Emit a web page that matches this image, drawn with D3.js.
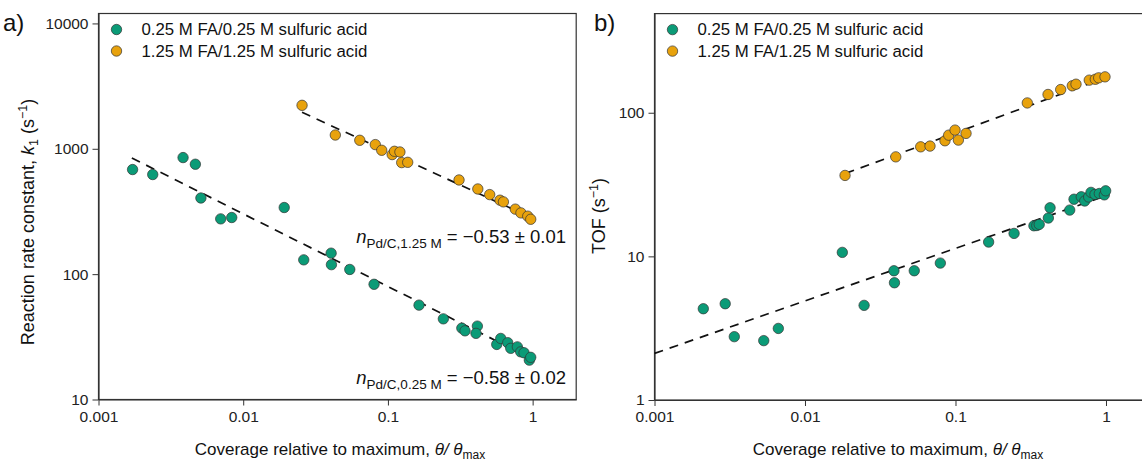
<!DOCTYPE html>
<html>
<head>
<meta charset="utf-8">
<script src="https://cdn.jsdelivr.net/npm/d3@7"></script>
<style>
  body { margin: 0; background: #fff; }
  svg { font-family: Arial, "Liberation Sans", sans-serif; }
</style>
</head>
<body>
<div id="chart"></div>
<script>
// ---- data ----
// panel a: reaction rate constant k1 (s^-1) vs coverage
var aLowX  = [0.00172, 0.00237, 0.00384, 0.00467, 0.0051, 0.00699, 0.00833, 0.0192, 0.0262, 0.0405, 0.0407, 0.0545, 0.0802, 0.164, 0.2415, 0.324, 0.341, 0.415, 0.406, 0.565, 0.602, 0.673, 0.706, 0.784, 0.827, 0.872, 0.949, 0.97];
var aLowY  = [683, 623, 851, 753, 405, 276, 283, 340, 130, 147, 119, 109, 83, 56.6, 44, 37.1, 35.3, 38.5, 33.7, 27.5, 30.7, 28.4, 25.6, 26.3, 24, 23.6, 20.6, 21.7];
var aHighX = [0.0255, 0.0433, 0.0639, 0.0818, 0.0906, 0.107, 0.111, 0.121, 0.1245, 0.137, 0.31, 0.418, 0.505, 0.595, 0.628, 0.759, 0.83, 0.925, 0.97];
var aHighY = [2222, 1288, 1169, 1080, 973, 899, 955, 943, 776, 780, 564, 478, 431, 389, 377, 330, 308, 290, 274];
var aFitLowX  = [0.0017, 1],  aFitLowY  = [845, 21];
var aFitHighX = [0.0255, 1],  aFitHighY = [1955, 279];

// panel b: TOF (s^-1) vs coverage
var bLowX  = [0.00211, 0.00295, 0.00339, 0.00532, 0.00665, 0.0177, 0.0247, 0.039, 0.0393, 0.0532, 0.0793, 0.166, 0.245, 0.332, 0.347, 0.36, 0.414, 0.425, 0.574, 0.613, 0.685, 0.722, 0.767, 0.795, 0.845, 0.903, 0.975, 0.995];
var bLowY  = [4.32, 4.68, 2.76, 2.59, 3.15, 10.66, 4.56, 7.94, 6.55, 7.94, 8.98, 12.58, 14.45, 16.33, 16.4, 16.7, 18.5, 21.8, 21.0, 25.0, 26.0, 24.3, 25.9, 27.9, 27.0, 27.4, 26.8, 28.6];
var bHighX = [0.01845, 0.0401, 0.0587, 0.0677, 0.0851, 0.0901, 0.0993, 0.1045, 0.1175, 0.3, 0.412, 0.5, 0.597, 0.632, 0.774, 0.849, 0.894, 0.985];
var bHighY = [36.6, 49.3, 57.9, 58.6, 63.8, 69.8, 75.7, 64.5, 71.8, 117, 134, 145, 154, 158, 168.6, 171, 175, 177.8];
var bFitLowX  = [0.001, 1],   bFitLowY  = [2.11, 26.4];
var bFitHighX = [0.0186, 1],  bFitHighY = [37.8, 176];

var seriesNames = ['0.25 M FA/0.25 M sulfuric acid', '1.25 M FA/1.25 M sulfuric acid'];
var xTicks = [0.001, 0.01, 0.1, 1];
var aYTicks = [10, 100, 1000, 10000];
var bYTicks = [1, 10, 100];

var green = '#0b9b77', orange = '#e8a20c';

var svg = d3.select('#chart').append('svg')
  .attr('width', 1142).attr('height', 464);

// minor ticks 2..9 of every decade inside a domain
function minorTicks(domain) {
  var out = [];
  for (var e = Math.floor(Math.log10(domain[0])); e <= Math.ceil(Math.log10(domain[1])); e++) {
    for (var m = 2; m <= 9; m++) {
      var v = m * Math.pow(10, e);
      if (v > domain[0] && v < domain[1]) out.push(v);
    }
  }
  return out;
}

function zip(xs, ys) {
  return xs.map(function(x, i) { return { x: x, y: ys[i] }; });
}

function drawPanel(p) {
  var x = d3.scaleLog().domain(p.xDomain).range(p.xRange);
  var y = d3.scaleLog().domain(p.yDomain).range(p.yRange);
  var g = svg.append('g');

  // frame
  g.append('rect')
    .attr('x', p.xRange[0]).attr('y', p.yRange[1])
    .attr('width', p.xRange[1] - p.xRange[0])
    .attr('height', p.yRange[0] - p.yRange[1])
    .attr('fill', 'none').attr('stroke', '#333').attr('stroke-width', 1.2);

  // x axis
  var xa = g.append('g').attr('transform', 'translate(0,' + p.yRange[0] + ')');
  xa.call(d3.axisBottom(x).tickValues(minorTicks(p.xDomain)).tickFormat('').tickSize(3).tickSizeOuter(0));
  xa.call(d3.axisBottom(x).tickValues(xTicks).tickFormat(function(d) { return String(d); }).tickSize(6).tickSizeOuter(0).tickPadding(5));

  // y axis
  var ya = g.append('g').attr('transform', 'translate(' + p.xRange[0] + ',0)');
  ya.call(d3.axisLeft(y).tickValues(minorTicks(p.yDomain)).tickFormat('').tickSize(3).tickSizeOuter(0));
  ya.call(d3.axisLeft(y).tickValues(p.yTicks).tickFormat(function(d) { return String(d); }).tickSize(6).tickSizeOuter(0).tickPadding(4));

  g.selectAll('.domain').attr('stroke', '#333').attr('stroke-width', 1.2);
  g.selectAll('.tick line').attr('stroke', '#333');
  g.selectAll('.tick text').attr('font-size', 15.5).attr('fill', '#222')
    .attr('font-family', 'Arial, "Liberation Sans", sans-serif');

  // fit lines
  var line = d3.line().x(function(d) { return x(d.x); }).y(function(d) { return y(d.y); });
  p.fits.forEach(function(f) {
    g.append('path').datum(zip(f[0], f[1]))
      .attr('d', line).attr('fill', 'none')
      .attr('stroke', '#111').attr('stroke-width', 1.7)
      .attr('stroke-dasharray', '9,7');
  });

  // points
  p.series.forEach(function(s) {
    g.selectAll(null).data(zip(s.xs, s.ys)).enter().append('circle')
      .attr('cx', function(d) { return x(d.x); })
      .attr('cy', function(d) { return y(d.y); })
      .attr('r', 5.2)
      .attr('fill', s.color).attr('stroke', '#333').attr('stroke-width', 0.7);
  });

  // legend
  seriesNames.forEach(function(name, i) {
    var ly = p.yRange[1] + 16 + i * 21.5;
    g.append('circle').attr('cx', p.xRange[0] + 18).attr('cy', ly).attr('r', 5.2)
      .attr('fill', p.series[i].color).attr('stroke', '#333').attr('stroke-width', 0.7);
    g.append('text').attr('x', p.xRange[0] + 43).attr('y', ly + 5.5)
      .attr('font-size', 16.8).attr('fill', '#111').text(name);
  });

  // panel letter
  g.append('text').attr('x', p.letterX).attr('y', 31)
    .attr('font-size', 24).attr('fill', '#111').text(p.letter);

  // x title
  var xt = g.append('text')
    .attr('x', p.xTitleX).attr('y', 455)
    .attr('text-anchor', 'middle').attr('font-size', 17).attr('fill', '#111');
  xt.append('tspan').text('Coverage relative to maximum, ');
  xt.append('tspan').attr('font-style', 'italic').text('θ/ θ');
  xt.append('tspan').attr('font-size', 12).attr('dy', 4).text('max');

  // y title
  var yt = g.append('text')
    .attr('transform', 'translate(' + p.yTitleX + ',' + p.yTitleY + ') rotate(-90)')
    .attr('text-anchor', 'middle').attr('font-size', 18).attr('fill', '#111');
  p.yTitle(yt);
}

drawPanel({
  letter: 'a)', letterX: 3,
  xDomain: [0.001, 2], xRange: [98.5, 576.2],
  yDomain: [10, 12000], yRange: [399.5, 13.5],
  yTicks: aYTicks,
  xTitleX: 340,
  yTitleX: 34, yTitleY: 222,
  yTitle: function(t) {
    t.append('tspan').text('Reaction rate constant, ');
    t.append('tspan').attr('font-style', 'italic').text('k');
    t.append('tspan').attr('font-size', 12.5).attr('dy', 4).text('1');
    t.append('tspan').attr('dy', -4).text(' (s');
    t.append('tspan').attr('font-size', 12.5).attr('dy', -7).text('−1');
    t.append('tspan').attr('dy', 7).text(')');
  },
  fits: [[aFitLowX, aFitLowY], [aFitHighX, aFitHighY]],
  series: [
    { xs: aLowX, ys: aLowY, color: green },
    { xs: aHighX, ys: aHighY, color: orange }
  ]
});

drawPanel({
  letter: 'b)', letterX: 594,
  xDomain: [0.001, 2], xRange: [654.5, 1151.3],
  yDomain: [1, 490], yRange: [400, 13.6],
  yTicks: bYTicks,
  xTitleX: 898,
  yTitleX: 605, yTitleY: 216,
  yTitle: function(t) {
    t.append('tspan').text('TOF (s');
    t.append('tspan').attr('font-size', 12.5).attr('dy', -7).text('−1');
    t.append('tspan').attr('dy', 7).text(')');
  },
  fits: [[bFitLowX, bFitLowY], [bFitHighX, bFitHighY]],
  series: [
    { xs: bLowX, ys: bLowY, color: green },
    { xs: bHighX, ys: bHighY, color: orange }
  ]
});

// slope annotations in panel a
function annot(yPos, sub, val) {
  var t = svg.append('text').attr('x', 566).attr('y', yPos)
    .attr('text-anchor', 'end').attr('font-size', 18.5).attr('fill', '#111');
  t.append('tspan').attr('font-style', 'italic').text('n');
  t.append('tspan').attr('font-size', 13.5).attr('dy', 5).text(sub);
  t.append('tspan').attr('dy', -5).text(' = ' + val);
}
annot(243, 'Pd/C,1.25 M', '−0.53 ± 0.01');
annot(384, 'Pd/C,0.25 M', '−0.58 ± 0.02');
</script>
</body>
</html>
